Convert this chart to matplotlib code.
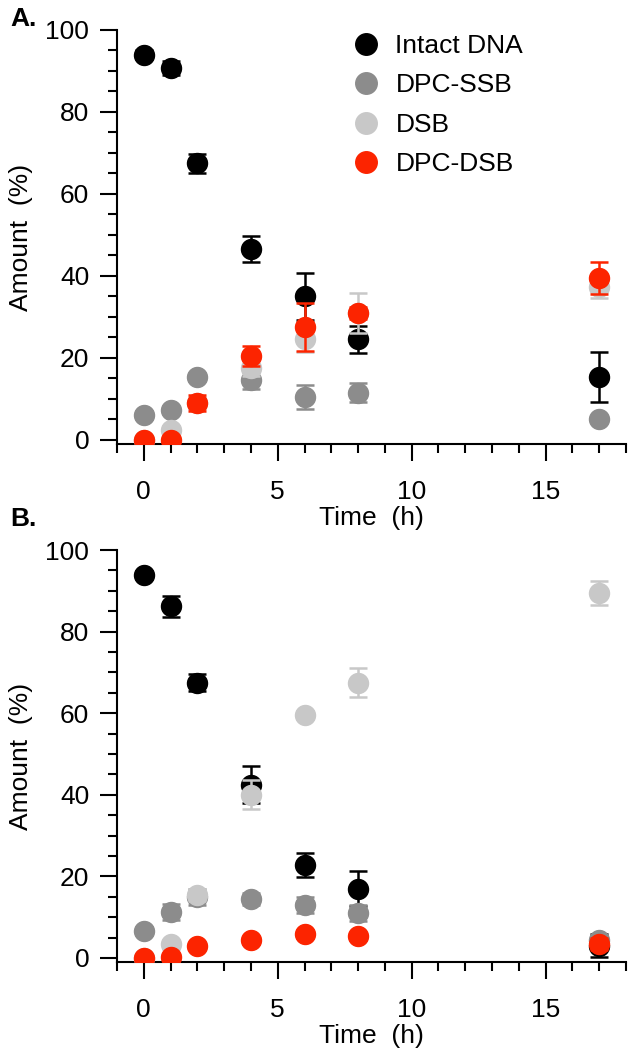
import matplotlib
matplotlib.use("Agg")
import matplotlib.pyplot as plt
from matplotlib.lines import Line2D
from matplotlib.ticker import MultipleLocator

plt.rcParams['font.family'] = ['Liberation Sans', 'DejaVu Sans']

# sampling times (h)
time_h = [0, 1, 2, 4, 6, 8, 17]

series_names = ['Intact DNA', 'DPC-SSB', 'DSB', 'DPC-DSB']
series_colors = ['#000000', '#8c8c8c', '#c8c8c8', '#fc2400']

# panel A
intact_a = [94, 90.7, 67.5, 46.5, 35, 24.5, 15.3]
intact_a_err = [1, 1.8, 2.3, 3.2, 5.7, 3.4, 6.1]
ssb_a = [6, 7.2, 15.3, 14.5, 10.5, 11.5, 5]
ssb_a_err = [1, 1, 1, 2, 3, 2.3, 0.5]
dsb_a = [0, 2.5, 9, 17.5, 24.5, 31, 37.3]
dsb_a_err = [0.5, 1, 1.5, 2, 3, 4.8, 2.8]
dpcdsb_a = [0, 0, 9, 20.5, 27.5, 31, 39.5]
dpcdsb_a_err = [0.5, 0.5, 2, 2.5, 5.8, 1.5, 4]

# panel B
intact_b = [93.8, 86.2, 67.5, 42.5, 22.8, 17, 3]
intact_b_err = [1, 2.6, 2, 4.5, 3, 4.2, 2.8]
ssb_b = [6.5, 11.3, 15, 14.5, 13, 11, 4.5]
ssb_b_err = [1, 2, 2, 1.5, 2, 2, 1]
dsb_b = [0, 3.3, 15.5, 40, 59.5, 67.5, 89.5]
dsb_b_err = [0.5, 1, 1.5, 3.5, 1, 3.5, 3]
dpcdsb_b = [0, 0.3, 2.8, 4.3, 5.8, 5.3, 3.5]
dpcdsb_b_err = [0.5, 0.5, 0.5, 0.8, 1, 0.8, 1.5]

panel_a = [(intact_a, intact_a_err), (ssb_a, ssb_a_err),
           (dsb_a, dsb_a_err), (dpcdsb_a, dpcdsb_a_err)]
panel_b = [(intact_b, intact_b_err), (ssb_b, ssb_b_err),
           (dsb_b, dsb_b_err), (dpcdsb_b, dpcdsb_b_err)]

FS = 19

fig = plt.figure(figsize=(6.33, 10.5), dpi=100)
W, H = 633, 1050


def make_axes(top_px, bottom_px):
    left, right = 117, 626
    return fig.add_axes([left / W, 1 - bottom_px / H, (right - left) / W, (bottom_px - top_px) / H])


def draw_panel(ax, data):
    for k, ((vals, errs), col) in enumerate(zip(data, series_colors)):
        ax.errorbar(time_h, vals, yerr=errs, fmt='o', color=col, ecolor=col,
                    ms=14.4, mec=col, elinewidth=1.8, capsize=6.8, capthick=1.8,
                    zorder=3 + k)
    ax.set_xlim(-1, 18)
    ax.set_ylim(-1, 100)
    ax.xaxis.set_major_locator(MultipleLocator(5))
    ax.xaxis.set_minor_locator(MultipleLocator(1))
    ax.yaxis.set_major_locator(MultipleLocator(20))
    ax.yaxis.set_minor_locator(MultipleLocator(5))
    for s in ['top', 'right']:
        ax.spines[s].set_visible(False)
    for s in ['left', 'bottom']:
        ax.spines[s].set_linewidth(1.5)
    ax.tick_params(which='major', direction='out', length=12, width=1.5, labelsize=FS)
    ax.tick_params(which='minor', direction='out', length=6.5, width=1.5)
    ax.tick_params(axis='x', which='major', pad=14)
    ax.tick_params(axis='y', which='major', pad=8)
    ax.set_xlabel('Time  (h)', fontsize=FS, labelpad=1)
    ax.set_ylabel('Amount  (%)', fontsize=FS, labelpad=9)


ax1 = make_axes(30, 444)
draw_panel(ax1, panel_a)
ax2 = make_axes(550, 962)
draw_panel(ax2, panel_b)

handles = [Line2D([], [], ls='none', marker='o', ms=15.5, color=c, mec=c) for c in series_colors]
ax1.legend(handles, series_names, loc='upper left', bbox_to_anchor=(0.464, 0.99),
           frameon=False, fontsize=FS, borderpad=0, borderaxespad=0,
           handlelength=1, handletextpad=0.6, labelspacing=0.58)

fig.text(10 / W, 1 - 19 / H, 'A.', fontsize=FS, fontweight='bold', va='center', ha='left')
fig.text(10 / W, 1 - 519 / H, 'B.', fontsize=FS, fontweight='bold', va='center', ha='left')

fig.savefig('out.png', dpi=100)
